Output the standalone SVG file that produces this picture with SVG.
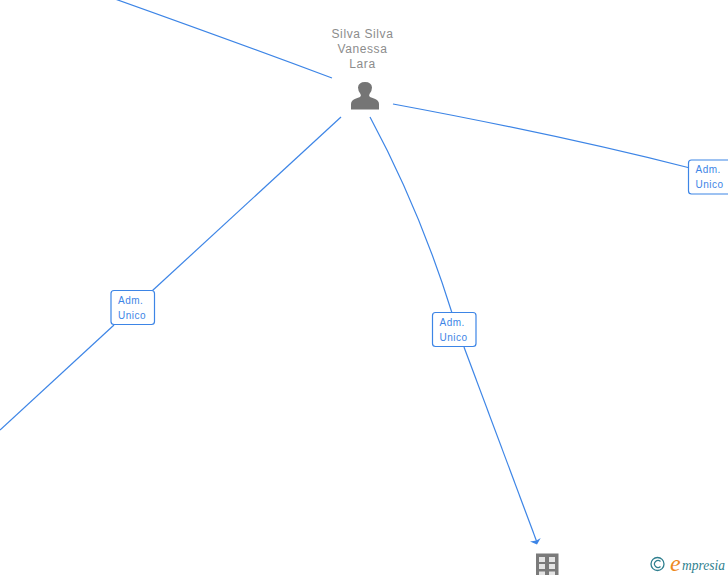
<svg xmlns="http://www.w3.org/2000/svg" width="728" height="575" viewBox="0 0 728 575">
<defs>
<style>
.c{fill:none;stroke:#3d85e6;stroke-width:1.2}
.b{fill:#fff;stroke:#3d85e6;stroke-width:1.2}
.l{font-family:"Liberation Sans",Arial,sans-serif;font-size:10px;fill:#3d85e6;letter-spacing:.5px}
.n{font-family:"Liberation Sans",Arial,sans-serif;font-size:12px;fill:#8c8c8c;text-anchor:middle;letter-spacing:.6px}
</style>
</defs>
<rect width="728" height="575" fill="#fff"/>
<g id="connectors">
<path class="c" d="M115 -1Q230 40 332 78"/>
<path class="c" d="M393 104Q560 135 690 168"/>
<path class="c" d="M341 117L152 291"/>
<path class="c" d="M114 325L0 430"/>
<path class="c" d="M370 117Q420 210 452 313"/>
<path class="c" d="M464 347L536.500 541"/>
<path d="M537 544.500L530 541.500L536.500 540.500L540.700 538Z" fill="#3d85e6"/>
</g>
<g id="person">
<text class="n" x="362.500" y="38">Silva Silva</text>
<text class="n" x="362.500" y="53">Vanessa</text>
<text class="n" x="362.500" y="68">Lara</text>
<path d="M351 109.500V104Q351 100 356 98.500L360 97Q361.500 96 360.500 94Q358 91 358 87.500Q358.500 82 365 82Q371.500 82 372 87.500Q372 91 369.500 94Q368.500 96 370 97L374 98.500Q379 100 379 104V109.500Z" fill="#757575"/>
</g>
<g id="label-left">
<rect class="b" x="111" y="290.500" width="43.500" height="34" rx="3"/>
<text class="l" x="118" y="304">Adm.</text>
<text class="l" x="118" y="319">Unico</text>
</g>
<g id="label-middle">
<rect class="b" x="432.500" y="312.500" width="43.500" height="34" rx="3"/>
<text class="l" x="439.500" y="326">Adm.</text>
<text class="l" x="439.500" y="341">Unico</text>
</g>
<g id="label-right">
<rect class="b" x="688.500" y="160" width="43.500" height="34" rx="3"/>
<text class="l" x="695.500" y="173">Adm.</text>
<text class="l" x="695.500" y="188">Unico</text>
</g>
<g id="building">
<rect x="536" y="553.500" width="22.500" height="21.500" fill="#7a7a7a"/>
<g fill="#e4e4e4">
<rect x="539" y="557" width="6" height="5"/><rect x="549" y="557" width="6" height="5"/>
<rect x="539" y="564" width="6" height="5"/><rect x="549" y="564" width="6" height="5"/>
<rect x="539" y="571.500" width="6" height="3.500"/><rect x="549" y="571.500" width="6" height="3.500"/>
</g>
</g>
<g id="logo">
<circle cx="657.500" cy="564" r="6.500" fill="none" stroke="#2f7f8f" stroke-width="1.300"/>
<path d="M660.500 561.500A3.500 3.500 0 1 0 660.500 566.500" fill="none" stroke="#2f7f8f" stroke-width="1.200"/>
<text x="670" y="571" font-family="'Liberation Serif',serif" font-style="italic" font-size="24" fill="#ee8a1d">e</text>
<text x="682" y="570" font-family="'Liberation Serif',serif" font-style="italic" font-size="14" fill="#2f7f8f" textLength="43" lengthAdjust="spacingAndGlyphs">mpresia</text>
</g>
</svg>
